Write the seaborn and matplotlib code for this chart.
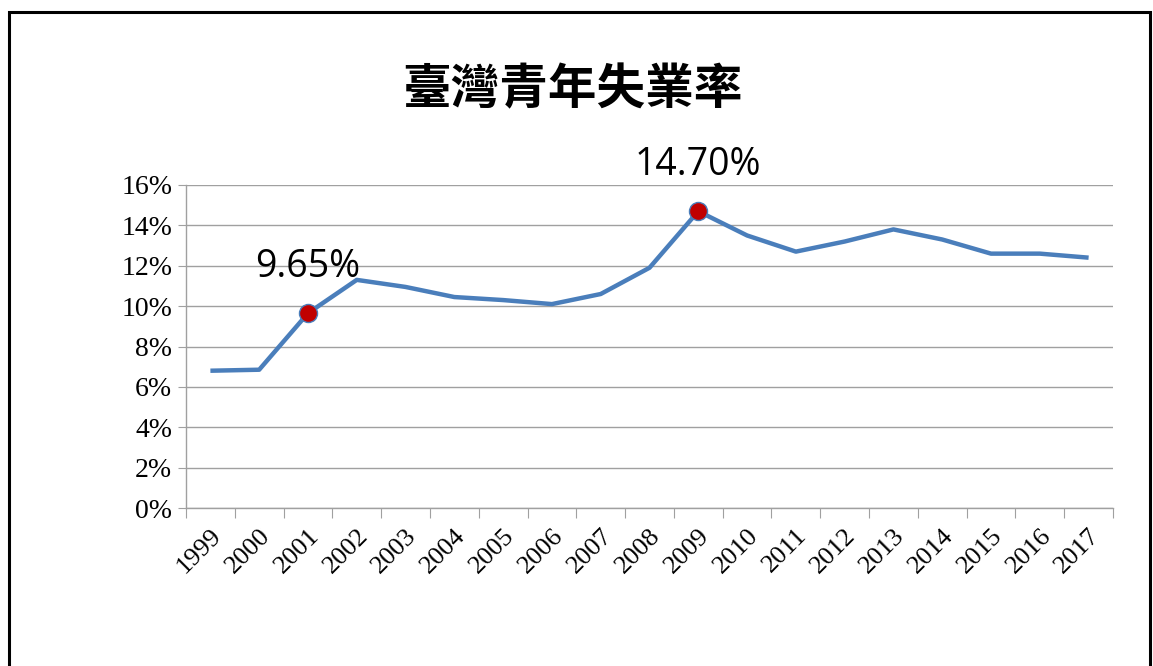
import numpy as np
import pandas as pd
import matplotlib
matplotlib.use("Agg")
import matplotlib.pyplot as plt
import seaborn as sns
from matplotlib.patches import Rectangle

# data
years = [str(y) for y in range(1999, 2018)]
rate = [6.8, 6.85, 9.65, 11.3, 10.95, 10.45, 10.3, 10.1, 10.6, 11.9,
        14.7, 13.5, 12.7, 13.2, 13.8, 13.3, 12.6, 12.6, 12.4]
marked_years = ["2001", "2009"]
marked_labels = ["9.65%", "14.70%"]
title = "臺灣青年失業率"

df = pd.DataFrame({"year": years, "rate": rate})
df["pos"] = np.arange(len(years))

sns.set_style("white")
plt.rcParams['font.family'] = ['Liberation Serif', 'DejaVu Sans']
plt.rcParams['text.color'] = 'black'
plt.rcParams['xtick.labelcolor'] = 'black'
plt.rcParams['ytick.labelcolor'] = 'black'

fig = plt.figure(figsize=(11.53, 6.66), dpi=100)
ax = fig.add_axes([186 / 1153, 1 - 508 / 666, (1113 - 186) / 1153, (508 - 185) / 666])

sns.lineplot(data=df, x="pos", y="rate", ax=ax, color="#4A7EBB", linewidth=3.2,
             solid_capstyle="butt")

# highlighted points
for yr, lab in zip(marked_years, marked_labels):
    row = df[df.year == yr].iloc[0]
    ax.plot(row.pos, row.rate, "o", markersize=13, markerfacecolor="#C00000",
            markeredgecolor="#4A7EBB", markeredgewidth=1, zorder=5)
    ax.annotate(lab, (row.pos, row.rate), xytext=(0, 33), textcoords="offset points",
                ha="center", va="center", fontsize=27, family=["Open Sans", "DejaVu Sans"],
                color="black")

ax.set_xlim(-0.5, len(years) - 0.5)
ax.set_ylim(0, 16)
ax.set_yticks(np.arange(0, 17, 2))
ax.set_yticklabels([f"{v}%" for v in range(0, 17, 2)], fontsize=20, color="black")
ax.yaxis.grid(True, color="#A0A0A0", linewidth=1)
ax.set_axisbelow(True)

# category boundaries as ticks, labels at centers
ax.set_xticks(np.arange(-0.5, len(years), 1))
ax.set_xticklabels([])
ax.set_xticks(df["pos"], minor=True)
ax.set_xticklabels(years, minor=True, rotation=45, ha="right", va="top",
                   rotation_mode="anchor", fontsize=19, color="black")
ax.tick_params(axis="x", which="major", direction="out", length=7, color="#A0A0A0", bottom=True)
ax.tick_params(axis="x", which="minor", length=0, pad=12)
ax.tick_params(axis="y", direction="out", length=6, color="#A0A0A0", left=True, pad=4)
ax.set_xlabel("")
ax.set_ylabel("")

for s in ["top", "right"]:
    ax.spines[s].set_visible(False)
for s in ["left", "bottom"]:
    ax.spines[s].set_color("#A0A0A0")
    ax.spines[s].set_linewidth(1)

fig.text(572 / 1153, 1 - 90 / 666, title, ha="center", va="center", fontsize=35,
         family=["Noto Sans CJK TC", "DejaVu Sans"], fontweight="bold", color="black")

# frame around the chart
fig.patches.append(Rectangle((9 / 1153, -0.1), (1150 - 9) / 1153, 1.1 - 12 / 666,
                             transform=fig.transFigure, fill=False, edgecolor="black",
                             linewidth=2.2))

fig.savefig("out.png", dpi=100)
